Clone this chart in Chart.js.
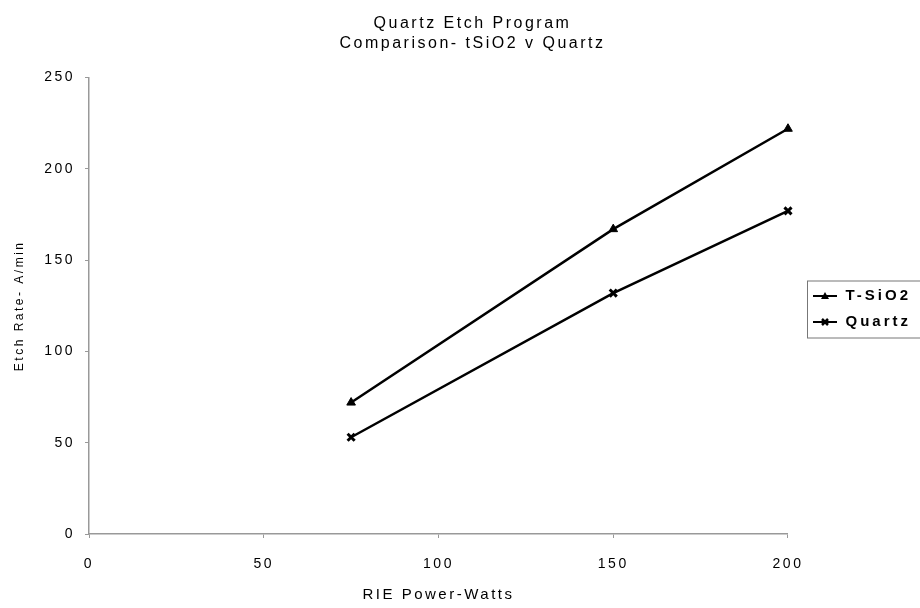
<!DOCTYPE html>
<html>
<head>
<meta charset="utf-8">
<script src="https://cdn.jsdelivr.net/npm/chart.js@4.4.1/dist/chart.umd.min.js"></script>
<style>
  html, body { margin: 0; padding: 0; background: #fff; }
  #wrap { width: 920px; height: 608px; }
</style>
</head>
<body>
<div id="wrap"><canvas id="etch"></canvas></div>
<script>
// datos
const powerWatts = [75, 150, 200]
const tsio2Rate = [72, 167, 222]
const quartzRate = [53, 132, 177]
const yTicks = [0, 50, 100, 150, 200, 250]
const xTicks = [0, 50, 100, 150, 200]

const FONT = 'Liberation Sans, Arial, sans-serif'

// pequeño icono de leyenda: linea con el marcador en medio
function legendIcon(kind) {
    let c = document.createElement('canvas')
    c.width = 26
    c.height = 10
    let g = c.getContext('2d')
    g.strokeStyle = '#000'
    g.fillStyle = '#000'
    g.lineWidth = 2
    g.beginPath()
    g.moveTo(1, 5)
    g.lineTo(25, 5)
    g.stroke()
    if (kind === 'tri') {
        g.beginPath()
        g.moveTo(13, 1)
        g.lineTo(17, 8)
        g.lineTo(9, 8)
        g.closePath()
        g.fill()
    } else {
        g.lineWidth = 2.5
        g.beginPath()
        g.moveTo(10, 2); g.lineTo(16, 8)
        g.moveTo(16, 2); g.lineTo(10, 8)
        g.stroke()
    }
    return c
}
const icons = [legendIcon('tri'), legendIcon('x')]

// envuelve el dibujo de una caja para cambiar el espaciado de letras
function withSpacing(chart, box, sp) {
    let draw = box.draw
    box.draw = function () {
        let old = chart.ctx.letterSpacing
        chart.ctx.letterSpacing = sp
        draw.apply(this, arguments)
        chart.ctx.letterSpacing = old
    }
}

// espaciado de letras como en el original
const spacing = {
    id: 'spacing',
    beforeLayout(chart) { chart.ctx.letterSpacing = '2.5px' },
    beforeDraw(chart) { chart.ctx.letterSpacing = '2.5px' },
    afterInit(chart) {
        withSpacing(chart, chart.legend, '3px')
    }
}

// posicion de leyenda y titulo como en el original
const placeBoxes = {
    id: 'placeBoxes',
    afterLayout(chart) {
        chart.legend.left = 801
        chart.legend.right = 930
        chart.legend.top += 5
        chart.legend.bottom += 5
        chart.titleBlock.left += 20
        chart.titleBlock.right += 20
    }
}

// marco alrededor de la leyenda
const legendFrame = {
    id: 'legendFrame',
    afterDraw(chart) {
        let boxes = chart.legend.legendHitBoxes
        if (!boxes || !boxes.length) return
        let top = Math.min(...boxes.map(b => b.top)) - 8
        let bottom = Math.max(...boxes.map(b => b.top + b.height)) + 8
        let left = Math.min(...boxes.map(b => b.left)) - 5
        let ctx = chart.ctx
        ctx.save()
        ctx.strokeStyle = '#777'
        ctx.lineWidth = 1
        ctx.strokeRect(left + 0.5, top + 0.5, 930 - left, bottom - top)
        ctx.restore()
    }
}

const ETCH = document.getElementById('etch')

new Chart(ETCH, {
    type: 'line',
    data: {
        labels: powerWatts,
        datasets: [{
            label: 'T-SiO2',
            data: powerWatts.map((x, i) => ({ x: x, y: tsio2Rate[i] })),
            borderColor: '#000',
            backgroundColor: '#000',
            borderWidth: 2.5,
            pointStyle: 'triangle',
            pointRadius: 5,
            pointBorderWidth: 1,
            clip: false
        }, {
            label: 'Quartz',
            data: powerWatts.map((x, i) => ({ x: x, y: quartzRate[i] })),
            borderColor: '#000',
            backgroundColor: '#000',
            borderWidth: 2.5,
            pointStyle: 'crossRot',
            pointRadius: 5,
            pointBorderWidth: 3,
            clip: false
        }]
    },
    options: {
        responsive: true,
        maintainAspectRatio: false,
        animation: false,
        layout: { padding: { left: 0, right: 15, top: 0, bottom: 0 } },
        plugins: {
            title: {
                display: true,
                text: ['Quartz Etch Program', 'Comparison- tSiO2 v Quartz'],
                color: '#000',
                font: { family: FONT, size: 16, weight: 'normal', lineHeight: 1.27 },
                padding: { top: 13, bottom: 24 }
            },
            legend: {
                position: 'right',
                labels: {
                    color: '#000',
                    font: { family: FONT, size: 15, weight: 'bold' },
                    usePointStyle: true,
                    pointStyleWidth: 26,
                    padding: 11,
                    generateLabels: function (chart) {
                        return chart.data.datasets.map((ds, i) => ({
                            text: ds.label,
                            pointStyle: icons[i],
                            fillStyle: '#000',
                            strokeStyle: '#000',
                            fontColor: '#000',
                            lineWidth: 0,
                            datasetIndex: i
                        }))
                    }
                }
            },
            tooltip: { enabled: false }
        },
        scales: {
            x: {
                type: 'linear',
                min: 0,
                max: 200,
                afterBuildTicks: function (axis) {
                    axis.ticks = xTicks.map(v => ({ value: v }))
                },
                afterFit: function (axis) { axis.height = 74 },
                border: { color: '#999', width: 1.5 },
                grid: { drawOnChartArea: false, drawTicks: true, tickLength: 4, color: '#999' },
                ticks: { color: '#000', font: { family: FONT, size: 14 }, padding: 18 },
                title: {
                    display: true,
                    text: 'RIE Power-Watts',
                    color: '#000',
                    font: { family: FONT, size: 15 },
                    padding: { top: 2 }
                }
            },
            y: {
                min: 0,
                max: 250,
                afterBuildTicks: function (axis) {
                    axis.ticks = yTicks.map(v => ({ value: v }))
                },
                afterFit: function (axis) { axis.width = 89 },
                border: { color: '#999', width: 1.5 },
                grid: { drawOnChartArea: false, drawTicks: true, tickLength: 4, color: '#999' },
                ticks: { color: '#000', font: { family: FONT, size: 14 }, padding: 10 },
                title: {
                    display: true,
                    text: 'Etch Rate- A/min',
                    color: '#000',
                    font: { family: FONT, size: 12 },
                    padding: { top: 12, bottom: 0 }
                }
            }
        }
    },
    plugins: [spacing, placeBoxes, legendFrame]
})
</script>
</body>
</html>
